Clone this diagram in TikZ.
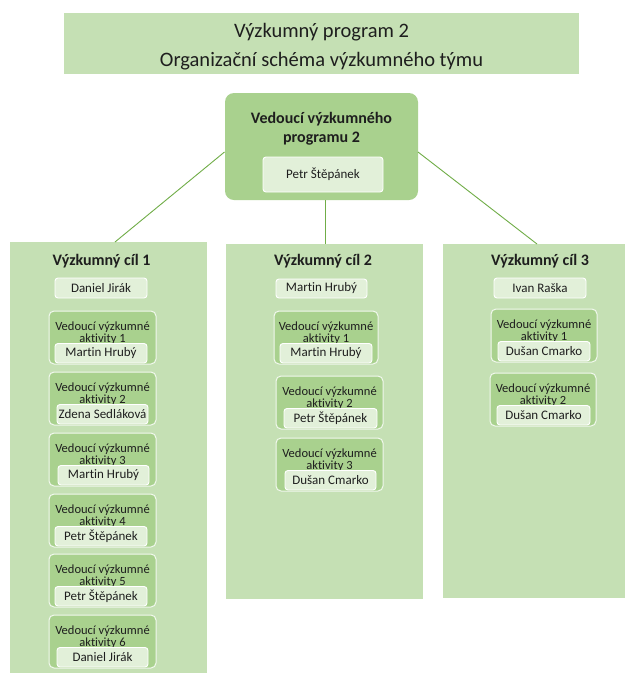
\documentclass[tikz,border=0pt]{standalone}
\usepackage{fontspec}
\setmainfont{Carlito}[Ligatures=NoCommon]
\definecolor{lg}{HTML}{C5E0B4}
\definecolor{mg}{HTML}{A9D18E}
\definecolor{pg}{HTML}{E2F0D9}
\definecolor{ln}{HTML}{70AD47}
\definecolor{tx}{HTML}{1E1E1E}
\tikzset{
  box/.style={anchor=north west, inner sep=0pt, outer sep=0pt},
  panel/.style={box, fill=lg},
  lead/.style={box, fill=mg, rounded corners=9pt},
  act/.style={box, fill=mg, draw=white!55!pg, line width=1pt, rounded corners=5pt},
  namebox/.style={box, fill=pg, draw=white, line width=0.9pt, rounded corners=3pt,
    font=\fontsize{13}{15}\selectfont, text=tx},
  acttext/.style={anchor=base, inner sep=0pt, align=center, font=\fontsize{12.5}{10.5}\selectfont, text=tx},
  headtext/.style={anchor=base, inner sep=0pt, font=\fontsize{16}{19}\selectfont\bfseries, text=tx},
  titletext/.style={anchor=base, inner sep=0pt, font=\fontsize{20.5}{25}\selectfont, text=tx},
  conn/.style={draw=ln, line width=0.9pt}
}
\newcommand\bx[6]{\node[#1, minimum width={(#4-#2)*1pt}, minimum height={(#5-#3)*1pt}] (#6) at (#2,#3)}
\newcommand\act[8]{%
  \node[act, minimum width={(#4-#2)*1pt}, minimum height=53pt] (#1) at (#2,#3) {};
  \node[acttext] (#1l) at ({(#2+#4)/2},{#3+31}) {Vedoucí výzkumné\\aktivity #7};
  \node[namebox, minimum width={(#6-#5)*1pt}, minimum height=19.5pt] (#1n) at (#5,{#3+32.5}) {#8};
}
\begin{document}
\begin{tikzpicture}[x=1pt,y=-1pt]
\useasboundingbox[fill=white] (0,0) rectangle (627,673);
% title
\bx{panel}{64}{13}{579}{74}{title}{};
\node[titletext] (t1) at (321.5,37.3) {Výzkumný program 2};
\node[titletext] (t2) at (321.5,66.5) {Organizační schéma výzkumného týmu};
% top leader
\bx{lead}{225}{93}{418}{200}{top}{};
\node[headtext] (toph1) at (321.5,123.5) {Vedoucí výzkumného};
\node[headtext] (toph2) at (321.5,142) {programu 2};
\bx{namebox}{263}{157}{383}{192}{topn}{Petr Štěpánek};
% columns
\bx{panel}{10}{242}{207}{673}{c1}{};
\bx{panel}{226}{244}{423}{599}{c2}{};
\bx{panel}{443}{244}{625}{598}{c3}{};
% connectors
\coordinate (tl) at (224.5,152);
\coordinate (tr) at (418,152);
\coordinate (tb) at (325,200);
\coordinate (c1a) at (115,242);
\coordinate (c2a) at (325,244);
\coordinate (c3a) at (537,244);
\draw[conn] (tl) -- (c1a);
\draw[conn] (tb) -- (c2a);
\draw[conn] (tr) -- (c3a);
% column 1
\node[headtext] (h1) at (101.5,265.5) {Výzkumný cíl 1};
\bx{namebox}{55}{278}{147}{298}{n1}{Daniel Jirák};
\act{aa}{49}{311}{156}{55}{147}{1}{Martin Hrubý}
\act{ab}{49}{372}{156}{57}{148}{2}{Zdena Sedláková}
\act{ac}{49}{433}{156}{58}{149}{3}{Martin Hrubý}
\act{ad}{49}{494}{156}{55}{147}{4}{Petr Štěpánek}
\act{ae}{49}{554}{156}{55}{147}{5}{Petr Štěpánek}
\act{af}{49}{615}{156}{57}{148}{6}{Daniel Jirák}
% column 2
\node[headtext] (h2) at (323,265.5) {Výzkumný cíl 2};
\bx{namebox}{276}{279}{367}{298}{n2}{Martin Hrubý};
\act{ba}{274}{311}{378}{280}{372}{1}{Martin Hrubý}
\act{bb}{276}{376}{383}{284}{377}{2}{Petr Štěpánek}
\act{bc}{276}{438}{383}{285}{376}{3}{Dušan Cmarko}
% column 3
\node[headtext] (h3) at (540,265.5) {Výzkumný cíl 3};
\bx{namebox}{494}{278}{586}{298}{n3}{Ivan Raška};
\act{ca}{491}{309}{597}{498}{590}{1}{Dušan Cmarko}
\act{cb}{490}{373}{596}{497}{590}{2}{Dušan Cmarko}
\end{tikzpicture}
\end{document}
